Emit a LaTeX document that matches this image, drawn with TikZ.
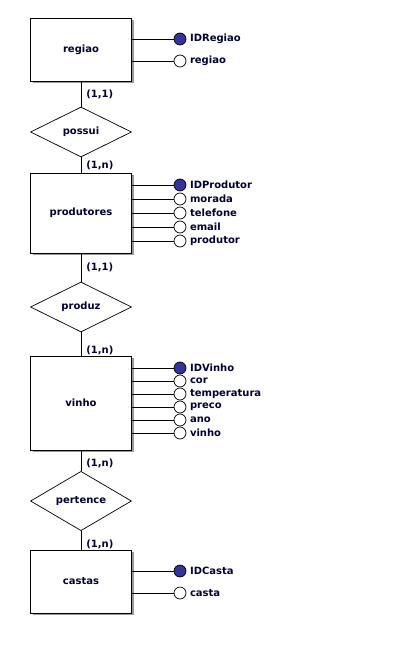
\documentclass[tikz,border=0pt]{standalone}
\usepackage{fontspec}
\setmainfont{DejaVu Sans}
\usetikzlibrary{shapes.geometric,shadows}
\definecolor{txtblue}{RGB}{0,0,51}
\definecolor{keyblue}{RGB}{51,51,153}

\begin{document}
\begin{tikzpicture}[x = 1pt, y = -1pt, line width = 0.7pt,
	font = \fontsize{10}{12}\selectfont\bfseries, text = txtblue,
	entity/.style = {draw, fill = white, minimum width = 101pt,
		drop shadow = {shadow xshift = 2pt, shadow yshift = -2pt, fill = gray!80, opacity = 1}},
	relation/.style = {diamond, draw, fill = white, inner sep = 0pt, minimum width = 101pt, minimum height = 50pt},
	attr/.style = {circle, draw, fill = white, minimum size = 12pt, inner sep = 0pt,
		label = {[label distance = 0pt]right:#1}},
	keyattr/.style = {attr = #1, fill = keyblue},
	card/.style = {anchor = west, inner sep = 0pt}]
	\useasboundingbox (0,0) rectangle (411,652);

	% entities and relations
	\node[entity, minimum height = 63pt] (regiao) at (81,49.5) {regiao};
	\node[relation] (possui) at (81,132) {possui};
	\node[entity, minimum height = 80pt] (produtores) at (81,213) {produtores};
	\node[relation] (produz) at (81,307) {produz};
	\node[entity, minimum height = 94pt] (vinho) at (81,403) {vinho};
	\node[relation] (pertence) at (81,501) {pertence};
	\node[entity, minimum height = 63pt] (castas) at (81,581.5) {castas};
	\draw (regiao) -- (possui) -- (produtores) -- (produz) -- (vinho) -- (pertence) -- (castas);

	% cardinalities
	\node[card] (c1) at (86,94) {(1,1)};
	\node[card] (c2) at (86,165) {(1,n)};
	\node[card] (c3) at (86,267) {(1,1)};
	\node[card] (c4) at (86,350) {(1,n)};
	\node[card] (c5) at (86,463) {(1,n)};
	\node[card] (c6) at (86,544) {(1,n)};

	% attributes
	\node[keyattr = IDRegiao] (IDRegiao) at (180,39) {};
	\draw (regiao.east |- IDRegiao) -- (IDRegiao);
	\foreach \y/\a in {61/regiao} {
		\node[attr = \a] (at-\a) at (180,\y) {};
		\draw (regiao.east |- at-\a) -- (at-\a);
	}
	\node[keyattr = IDProdutor] (IDProdutor) at (180,185) {};
	\draw (produtores.east |- IDProdutor) -- (IDProdutor);
	\foreach \y/\a in {199/morada, 213/telefone, 227/email, 241/produtor} {
		\node[attr = \a] (at-\a) at (180,\y) {};
		\draw (produtores.east |- at-\a) -- (at-\a);
	}
	\node[keyattr = IDVinho] (IDVinho) at (180,368) {};
	\draw (vinho.east |- IDVinho) -- (IDVinho);
	\foreach \y/\a in {381/cor, 394/temperatura, 407/preco, 420/ano, 433/vinho} {
		\node[attr = \a] (at-\a) at (180,\y) {};
		\draw (vinho.east |- at-\a) -- (at-\a);
	}
	\node[keyattr = IDCasta] (IDCasta) at (180,571) {};
	\draw (castas.east |- IDCasta) -- (IDCasta);
	\foreach \y/\a in {593/casta} {
		\node[attr = \a] (at-\a) at (180,\y) {};
		\draw (castas.east |- at-\a) -- (at-\a);
	}
\end{tikzpicture}
\end{document}
